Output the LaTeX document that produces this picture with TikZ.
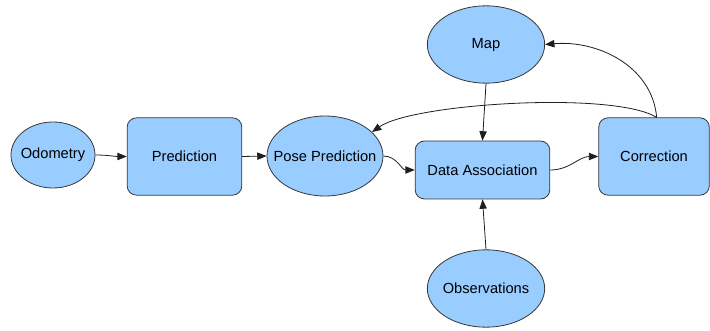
\documentclass[tikz,border=0pt]{standalone}
\usepackage{fontspec}
\setmainfont{Liberation Sans}
\definecolor{nodeblue}{RGB}{153, 204, 255}
\definecolor{edgegray}{RGB}{55, 55, 55}
\definecolor{linkgray}{RGB}{30, 30, 30}
\usetikzlibrary{shapes, arrows.meta, positioning}

\begin{document}
\begin{tikzpicture}[
  x=0.75pt, y=-0.75pt,
  procbox/.style={rectangle, rounded corners=7pt, fill=nodeblue, draw=edgegray, line width=0.6pt, align=center, font=\fontsize{11}{13}\selectfont, inner sep=0pt},
  dataoval/.style={ellipse, fill=nodeblue, draw=edgegray, line width=0.6pt, font=\fontsize{11}{13}\selectfont, inner xsep=-8pt, inner ysep=0pt},
  flow/.style={-{Triangle[length=7pt, width=5.5pt]}, line width=0.6pt, linkgray}
]
  \useasboundingbox (0,0) rectangle (710,331);

  % Data
  \node[dataoval, minimum width=63pt, minimum height=49.5pt] (odo) at (53, 155) {Odometry};
  \node[dataoval, minimum width=87pt, minimum height=60pt] (pose) at (325, 156) {Pose Prediction};
  \node[dataoval, minimum width=88pt, minimum height=58pt] (map) at (486, 44.5) {Map};
  \node[dataoval, minimum width=88pt, minimum height=58pt] (obs) at (486, 288.5) {Observations};

  % Steps
  \node[procbox, minimum width=86pt, minimum height=58pt] (pred) at (184.5, 156.5) {Prediction};
  \node[procbox, minimum width=101pt, minimum height=43.5pt] (assoc) at (482.5, 170) {Data Association};
  \node[procbox, minimum width=83pt, minimum height=58pt] (corr) at (654, 156.5) {Correction};

  % Links
  \draw[flow] (odo.east) to[out=0, in=180] (pred.west);
  \draw[flow] (pred.east) -- (pose.west);
  \draw[flow] (pose.east) to[out=0, in=180] (assoc.west);
  \draw[flow] (assoc.east) to[out=0, in=180] (corr.west);
  \draw[flow] (map.south) -- (assoc.north);
  \draw[flow] (obs.north) -- (assoc.south);
  \draw[flow] ([xshift=2pt]corr.north) to[out=95, in=5] (map.east);
  \draw[flow] ([xshift=2pt]corr.north) to[out=148, in=35, looseness=0.45] (pose.27);
\end{tikzpicture}
\end{document}
